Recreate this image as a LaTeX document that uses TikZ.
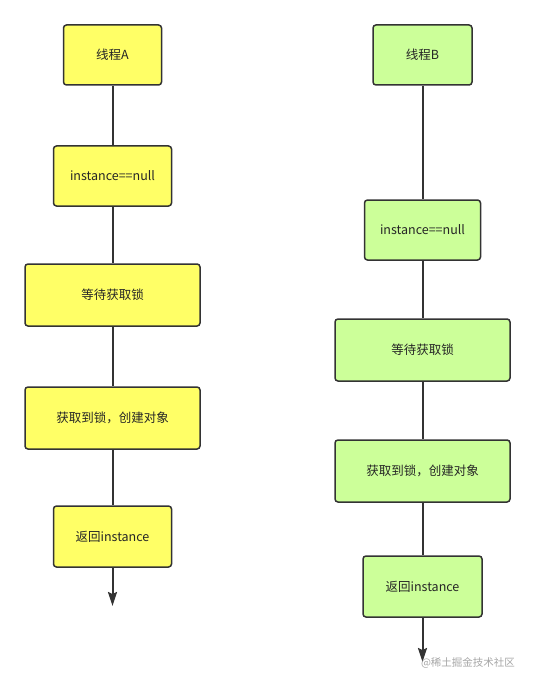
\documentclass[tikz,border=0pt]{standalone}
\usepackage{fontspec}
\setmainfont{Noto Sans CJK SC}
\usetikzlibrary{arrows.meta}
\definecolor{yel}{HTML}{FFFF66}
\definecolor{grn}{HTML}{CCFF99}
\definecolor{edge}{HTML}{333333}
\begin{document}
\begin{tikzpicture}[x=1pt,y=-1pt,
  box/.style={draw=edge,line width=1.5pt,rounded corners=3pt,inner sep=0pt,
    font=\fontsize{12.5pt}{15pt}\selectfont,text=black!85},
  ybox/.style={box,fill=yel},
  gbox/.style={box,fill=grn},
  link/.style={draw=edge,line width=2pt},
  arr/.style={link,-{Stealth[length=14pt,width=9pt,inset=2pt]}}]
\useasboundingbox (0,0) rectangle (535,687);
% left column
\node[ybox,minimum width=98pt,minimum height=60pt] (a1) at (112.5,55) {线程A};
\node[ybox,minimum width=118pt,minimum height=60pt] (a2) at (112.5,176) {instance==null};
\node[ybox,minimum width=175pt,minimum height=62pt] (a3) at (112.5,295) {等待获取锁};
\node[ybox,minimum width=175pt,minimum height=62pt] (a4) at (112.5,418) {获取到锁，创建对象};
\node[ybox,minimum width=118pt,minimum height=61pt] (a5) at (112.5,536.5) {返回instance};
\coordinate (aend) at (112.5,606);
\draw[link] (a1) -- (a2);
\draw[link] (a2) -- (a3);
\draw[link] (a3) -- (a4);
\draw[link] (a4) -- (a5);
\draw[arr] (a5) -- (aend);
% right column
\node[gbox,minimum width=99pt,minimum height=60pt] (b1) at (422.5,55) {线程B};
\node[gbox,minimum width=116pt,minimum height=60pt] (b2) at (422.5,230) {instance==null};
\node[gbox,minimum width=175pt,minimum height=62pt] (b3) at (422.5,350) {等待获取锁};
\node[gbox,minimum width=175pt,minimum height=62pt] (b4) at (422.5,471) {获取到锁，创建对象};
\node[gbox,minimum width=119pt,minimum height=61pt] (b5) at (422.5,586.5) {返回instance};
\coordinate (bend) at (422.5,662);
\draw[link] (b1) -- (b2);
\draw[link] (b2) -- (b3);
\draw[link] (b3) -- (b4);
\draw[link] (b4) -- (b5);
\draw[arr] (b5) -- (bend);
% watermark
\node[text=black!35,font=\fontsize{10.5pt}{12pt}\selectfont,inner sep=0pt] (wm) at (468,663) {@稀土掘金技术社区};
\end{tikzpicture}
\end{document}
